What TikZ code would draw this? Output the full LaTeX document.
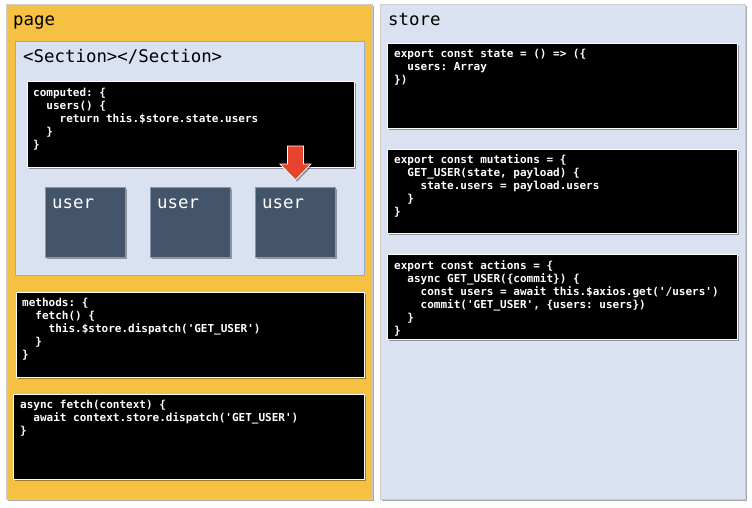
\documentclass[tikz,border=0pt]{standalone}
\usepackage{fontspec}
\setmonofont{DejaVu Sans Mono}
\usetikzlibrary{shadows, positioning}
\definecolor{cpage}{HTML}{F6C142}
\definecolor{cstore}{HTML}{DAE1F0}
\definecolor{csecline}{HTML}{8FAADC}
\definecolor{cuser}{HTML}{44546A}
\definecolor{cuserline}{HTML}{8497B0}
\definecolor{cred}{HTML}{E8432D}
\definecolor{cpanelline}{HTML}{CCCCCC}
\newcommand{\ind}{\phantom{xx}}
\tikzset{
  every picture/.style={x=1pt, y=-1pt},
  shade/.style={drop shadow={shadow xshift=1.6pt, shadow yshift=-1.6pt, opacity=0.35, fill=black}},
  panel/.style={draw=cpanelline, fill=#1, line width=0.8pt, anchor=north west, inner sep=0pt, shade},
  section/.style={draw=csecline, fill=cstore, line width=0.8pt, anchor=north west, inner sep=0pt},
  codebox/.style={draw=white, fill=black, line width=1.2pt, anchor=north west, inner sep=0pt, shade},
  codetext/.style={anchor=north west, inner sep=0pt, align=left, text=white, font=\ttfamily\bfseries\fontsize{11}{13.1}\selectfont},
  userbox/.style={draw=cuserline, fill=cuser, line width=0.8pt, anchor=north west, inner sep=0pt, minimum width=80, minimum height=70, shade},
  heading/.style={anchor=base west, inner sep=0pt, font=\ttfamily\fontsize{17.4}{20}\selectfont},
  downarrow/.style={draw=white, fill=cred, line width=0.8pt, line join=miter, shade},
}

\begin{document}
\begin{tikzpicture}
  \useasboundingbox (0,0) rectangle (752,507);
  % page side
  \node[panel=cpage, minimum width=366, minimum height=495] (page) at (6,4) {};
  \node[heading] at ([shift={(7,21)}]page.north west) {page};
  \node[section, minimum width=349, minimum height=234] (sec) at (15,41) {};
  \node[heading] at ([shift={(8,21)}]sec.north west) {<Section></Section>};
  \node[codebox, minimum width=327, minimum height=86] (computed) at (27,81) {};
  \node[codetext] at ([shift={(6,6.5)}]computed.north west) {computed: \{\\
    \ind users() \{\\
    \ind\ind return this.\$store.state.users\\
    \ind\}\\
    \}};
  \node[userbox] (u1) at (45,187) {};
  \node[userbox] (u2) at (150,187) {};
  \node[userbox] (u3) at (255,187) {};
  \foreach \u in {u1, u2, u3}
    \node[heading, text=white] at ([shift={(7,21)}]\u.north west) {user};
  \coordinate (tip) at ([yshift=7pt]u3.north);
  \draw[downarrow] (tip) -- ++(-15.5,-16) -- ++(7.5,0) -- ++(0,-18) -- ++(16,0)
    -- ++(0,18) -- ++(7.5,0) -- cycle;
  \node[codebox, minimum width=348, minimum height=85] (methods) at (16,292) {};
  \node[codetext] at ([shift={(6,5.5)}]methods.north west) {methods: \{\\
    \ind fetch() \{\\
    \ind\ind this.\$store.dispatch('GET\_USER')\\
    \ind\}\\
    \}};
  \node[codebox, minimum width=351, minimum height=85] (fetch) at (13,394) {};
  \node[codetext] at ([shift={(7,6)}]fetch.north west) {async fetch(context) \{\\
    \ind await context.store.dispatch('GET\_USER')\\
    \}};
  % store side
  \node[panel=cstore, minimum width=365, minimum height=495] (store) at (380,4) {};
  \node[heading] at ([shift={(8,21)}]store.north west) {store};
  \node[codebox, minimum width=350, minimum height=85] (state) at (387,43) {};
  \node[codetext] at ([shift={(7,6)}]state.north west) {export const state = () => (\{\\
    \ind users: Array\\
    \})};
  \node[codebox, minimum width=350, minimum height=84] (mut) at (387,149) {};
  \node[codetext] at ([shift={(7,5)}]mut.north west) {export const mutations = \{\\
    \ind GET\_USER(state, payload) \{\\
    \ind\ind state.users = payload.users\\
    \ind\}\\
    \}};
  \node[codebox, minimum width=350, minimum height=85] (act) at (387,254) {};
  \node[codetext] at ([shift={(7,6)}]act.north west) {export const actions = \{\\
    \ind async GET\_USER(\{commit\}) \{\\
    \ind\ind const users = await this.\$axios.get('/users')\\
    \ind\ind commit('GET\_USER', \{users: users\})\\
    \ind\}\\
    \}};
\end{tikzpicture}
\end{document}
